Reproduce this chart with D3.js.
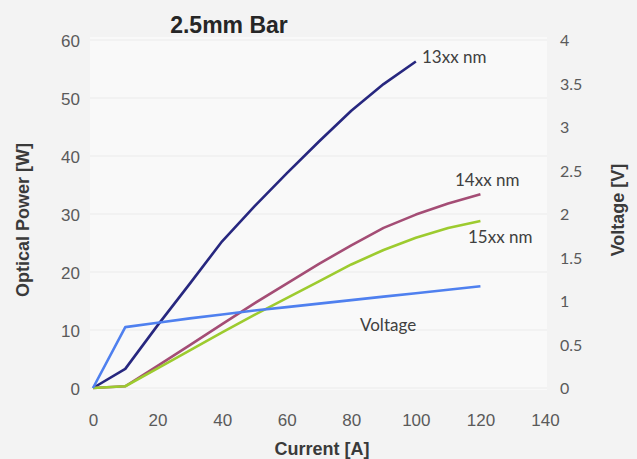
<!DOCTYPE html>
<html>
<head>
<meta charset="utf-8">
<script src="https://cdn.jsdelivr.net/npm/d3@7/dist/d3.min.js"></script>
<style>
  html, body { margin: 0; padding: 0; background: #f3f3f3; }
  svg { display: block; }
</style>
</head>
<body>
<svg id="chart"></svg>
<script>
// current steps [A]
const current = [0, 10, 20, 30, 40, 50, 60, 70, 80, 90, 100, 110, 120];

// optical power [W]
const power13xx = [0, 3.3, 10.8, 18, 25.3, 31.3, 37, 42.5, 47.8, 52.4, 56.3];
const power14xx = [0, 0.3, 3.8, 7.4, 11, 14.6, 18, 21.4, 24.6, 27.6, 29.9, 31.8, 33.4];
const power15xx = [0, 0.3, 3.4, 6.5, 9.6, 12.6, 15.5, 18.4, 21.3, 23.8, 25.9, 27.6, 28.8];

// voltage [V], right axis
const voltage = [0, 0.7, 0.75, 0.8, 0.845, 0.89, 0.93, 0.97, 1.01, 1.05, 1.09, 1.13, 1.17];

const xTicks = [0, 20, 40, 60, 80, 100, 120, 140];
const powerTicks = [0, 10, 20, 30, 40, 50, 60];
const voltTicks = [0, 0.5, 1, 1.5, 2, 2.5, 3, 3.5, 4];

const width = 637;
const height = 459;

const svg = d3.select("#chart")
    .attr("width", width)
    .attr("height", height);

const x = d3.scaleLinear().domain([0, 140]).range([93, 545]);
const y = d3.scaleLinear().domain([0, 60]).range([388, 40]);
const yV = d3.scaleLinear().domain([0, 4]).range([388, 40]);

const armFont = "'Liberation Sans', Arial, sans-serif";
const caliFont = "Lato, 'Open Sans', sans-serif";

// plot area
svg.append("rect")
    .attr("x", 90).attr("y", 37)
    .attr("width", 457).attr("height", 353)
    .attr("fill", "#f9f9f9");

// gridlines
svg.append("g")
    .selectAll("line")
    .data(powerTicks)
    .join("line")
    .attr("x1", 90).attr("x2", 547)
    .attr("y1", d => y(d)).attr("y2", d => y(d))
    .attr("stroke", "#ebebeb")
    .attr("stroke-width", 1);

// left axis
const left = svg.append("g")
    .attr("transform", "translate(80,0)")
    .call(d3.axisLeft(y).tickValues(powerTicks).tickSize(0).tickPadding(0));
left.select(".domain").remove();
left.selectAll("text")
    .attr("dy", "0.36em")
    .style("font", `17px ${armFont}`)
    .attr("fill", "#5a5a5a");

// bottom axis
const bottom = svg.append("g")
    .attr("transform", "translate(0,426)")
    .call(d3.axisBottom(x).tickValues(xTicks).tickSize(0).tickPadding(0));
bottom.select(".domain").remove();
bottom.selectAll("text")
    .attr("dy", 0)
    .style("font", `17px ${armFont}`)
    .attr("fill", "#5a5a5a");

// right axis
const right = svg.append("g")
    .attr("transform", "translate(560,0)")
    .call(d3.axisRight(yV).tickValues(voltTicks).tickFormat(d => String(d)).tickSize(0).tickPadding(0));
right.select(".domain").remove();
right.selectAll("text")
    .attr("dy", "0.36em")
    .style("font", `16px ${caliFont}`)
    .attr("fill", "#5a5a5a");

// series
const series = [
    { name: "13xx nm", values: power13xx, scale: y, color: "#27277f" },
    { name: "14xx nm", values: power14xx, scale: y, color: "#a44d75" },
    { name: "15xx nm", values: power15xx, scale: y, color: "#9dcb2f" },
    { name: "Voltage", values: voltage, scale: yV, color: "#4f80ef" }
];

series.forEach(s => {
    const line = d3.line()
        .x((d, i) => x(current[i]))
        .y(d => s.scale(d));
    svg.append("path")
        .datum(s.values)
        .attr("d", line)
        .attr("fill", "none")
        .attr("stroke", s.color)
        .attr("stroke-width", 2.6)
        .attr("stroke-linejoin", "round");
});

// line labels
const labels = [
    { text: "13xx nm", x: 422, y: 63 },
    { text: "14xx nm", x: 455, y: 186 },
    { text: "15xx nm", x: 468, y: 243 },
    { text: "Voltage", x: 360, y: 331 }
];
svg.append("g")
    .selectAll("text")
    .data(labels)
    .join("text")
    .attr("x", d => d.x)
    .attr("y", d => d.y)
    .text(d => d.text)
    .style("font", `17px ${caliFont}`)
    .attr("fill", "#404040");

// title
svg.append("text")
    .attr("x", 229).attr("y", 33)
    .attr("text-anchor", "middle")
    .style("font", `bold 23px ${armFont}`)
    .attr("fill", "#262626")
    .text("2.5mm Bar");

// axis titles
svg.append("text")
    .attr("x", 322).attr("y", 455)
    .attr("text-anchor", "middle")
    .style("font", `bold 18px ${armFont}`)
    .attr("fill", "#3a3a3a")
    .text("Current [A]");

svg.append("text")
    .attr("transform", "translate(29,220) rotate(-90)")
    .attr("text-anchor", "middle")
    .style("font", `bold 18px ${armFont}`)
    .attr("fill", "#3a3a3a")
    .text("Optical Power [W]");

svg.append("text")
    .attr("transform", "translate(624,210) rotate(-90)")
    .attr("text-anchor", "middle")
    .style("font", `bold 18px ${armFont}`)
    .attr("fill", "#3a3a3a")
    .text("Voltage [V]");
</script>
</body>
</html>
